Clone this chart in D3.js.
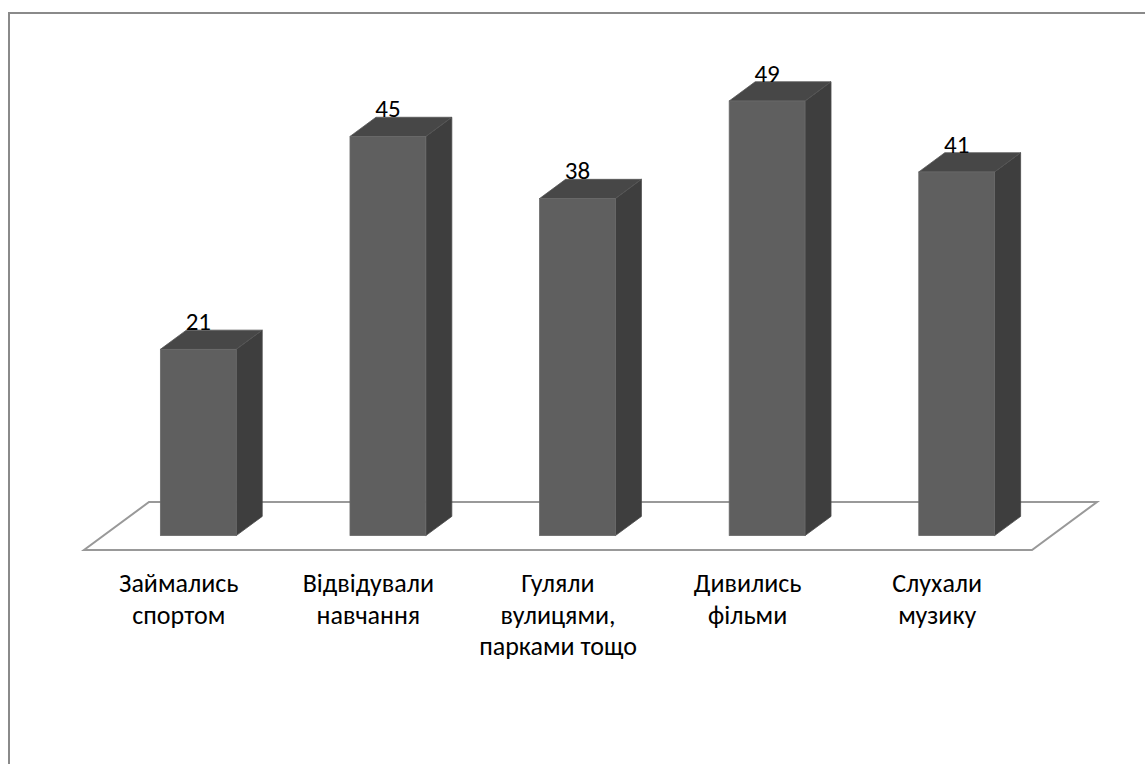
<!DOCTYPE html>
<html>
<head>
<meta charset="utf-8">
<script src="https://cdn.jsdelivr.net/npm/d3@7"></script>
<style>
  body { margin: 0; background: #fff; }
  text { font-family: Carlito, Lato, "Open Sans", sans-serif; fill: #000; }
</style>
</head>
<body>
<div class="chart"></div>
<script>
var svgWidth = 1145;
var svgHeight = 764;

// data
var categories = ["Займались спортом", "Відвідували навчання", "Гуляли вулицями, парками тощо", "Дивились фільми", "Слухали музику"];
var labelLines = [["Займались", "спортом"], ["Відвідували", "навчання"], ["Гуляли", "вулицями,", "парками тощо"], ["Дивились", "фільми"], ["Слухали", "музику"]];
var values = [21, 45, 38, 49, 41];

// floor geometry (front edge + depth)
var floorFrontY = 550;
var floorDx = 65;
var floorDy = 48;
var depthFront = 0.3, depthBack = 0.7;

var svg = d3.select(".chart")
  .append("svg")
  .attr("width", svgWidth)
  .attr("height", svgHeight);

// outer frame (runs off right/bottom of the window)
svg.append("rect")
  .attr("x", 9).attr("y", 13)
  .attr("width", 1200).attr("height", 800)
  .attr("fill", "none")
  .attr("stroke", "#8a8a8a")
  .attr("stroke-width", 2);

var x = d3.scaleBand()
  .domain(categories)
  .range([84, 1032])
  .paddingInner(0)
  .paddingOuter(0);

var y = d3.scaleLinear()
  .domain([0, 50])
  .range([0, 443.5]);

var barW = x.bandwidth() * 0.4;

// floor
var x0 = x.range()[0], x1 = x.range()[1];
svg.append("path")
  .attr("d", d3.line()([
    [x0, floorFrontY], [x1, floorFrontY],
    [x1 + floorDx, floorFrontY - floorDy], [x0 + floorDx, floorFrontY - floorDy]
  ]) + "Z")
  .attr("fill", "none")
  .attr("stroke", "#999")
  .attr("stroke-width", 2);

var bdx = floorDx * (depthBack - depthFront);
var bdy = floorDy * (depthBack - depthFront);

var bars = svg.selectAll("g.bar")
  .data(categories.map((c, i) => ({ cat: c, value: values[i], lines: labelLines[i] })))
  .enter().append("g")
  .attr("class", "bar");

bars.each(function(d) {
  var g = d3.select(this);
  var left = x(d.cat) + (x.bandwidth() - barW) / 2 + floorDx * depthFront;
  var bottom = floorFrontY - floorDy * depthFront;
  var top = bottom - y(d.value);
  var right = left + barW;

  // side face
  g.append("path")
    .attr("d", d3.line()([[right, bottom], [right + bdx, bottom - bdy], [right + bdx, top - bdy], [right, top]]) + "Z")
    .attr("fill", "#3e3e3e")
    .attr("stroke", "#4a4a4a").attr("stroke-width", 0.8);
  // top face
  g.append("path")
    .attr("d", d3.line()([[left, top], [right, top], [right + bdx, top - bdy], [left + bdx, top - bdy]]) + "Z")
    .attr("fill", "#474747")
    .attr("stroke", "#555").attr("stroke-width", 0.8);
  // front face
  g.append("rect")
    .attr("x", left).attr("y", top)
    .attr("width", barW).attr("height", y(d.value))
    .attr("fill", "#5f5f5f")
    .attr("stroke", "#6a6a6a").attr("stroke-width", 0.8);

  // value label
  g.append("text")
    .attr("x", left + barW / 2)
    .attr("y", top - bdy)
    .attr("text-anchor", "middle")
    .style("font-size", "25px")
    .text(d.value);

  // category label
  var t = g.append("text")
    .attr("text-anchor", "middle")
    .style("font-size", "26px");
  d.lines.forEach((ln, k) => {
    t.append("tspan")
      .attr("x", x(d.cat) + x.bandwidth() / 2)
      .attr("y", 592 + k * 31.5)
      .text(ln);
  });
});
</script>
</body>
</html>
